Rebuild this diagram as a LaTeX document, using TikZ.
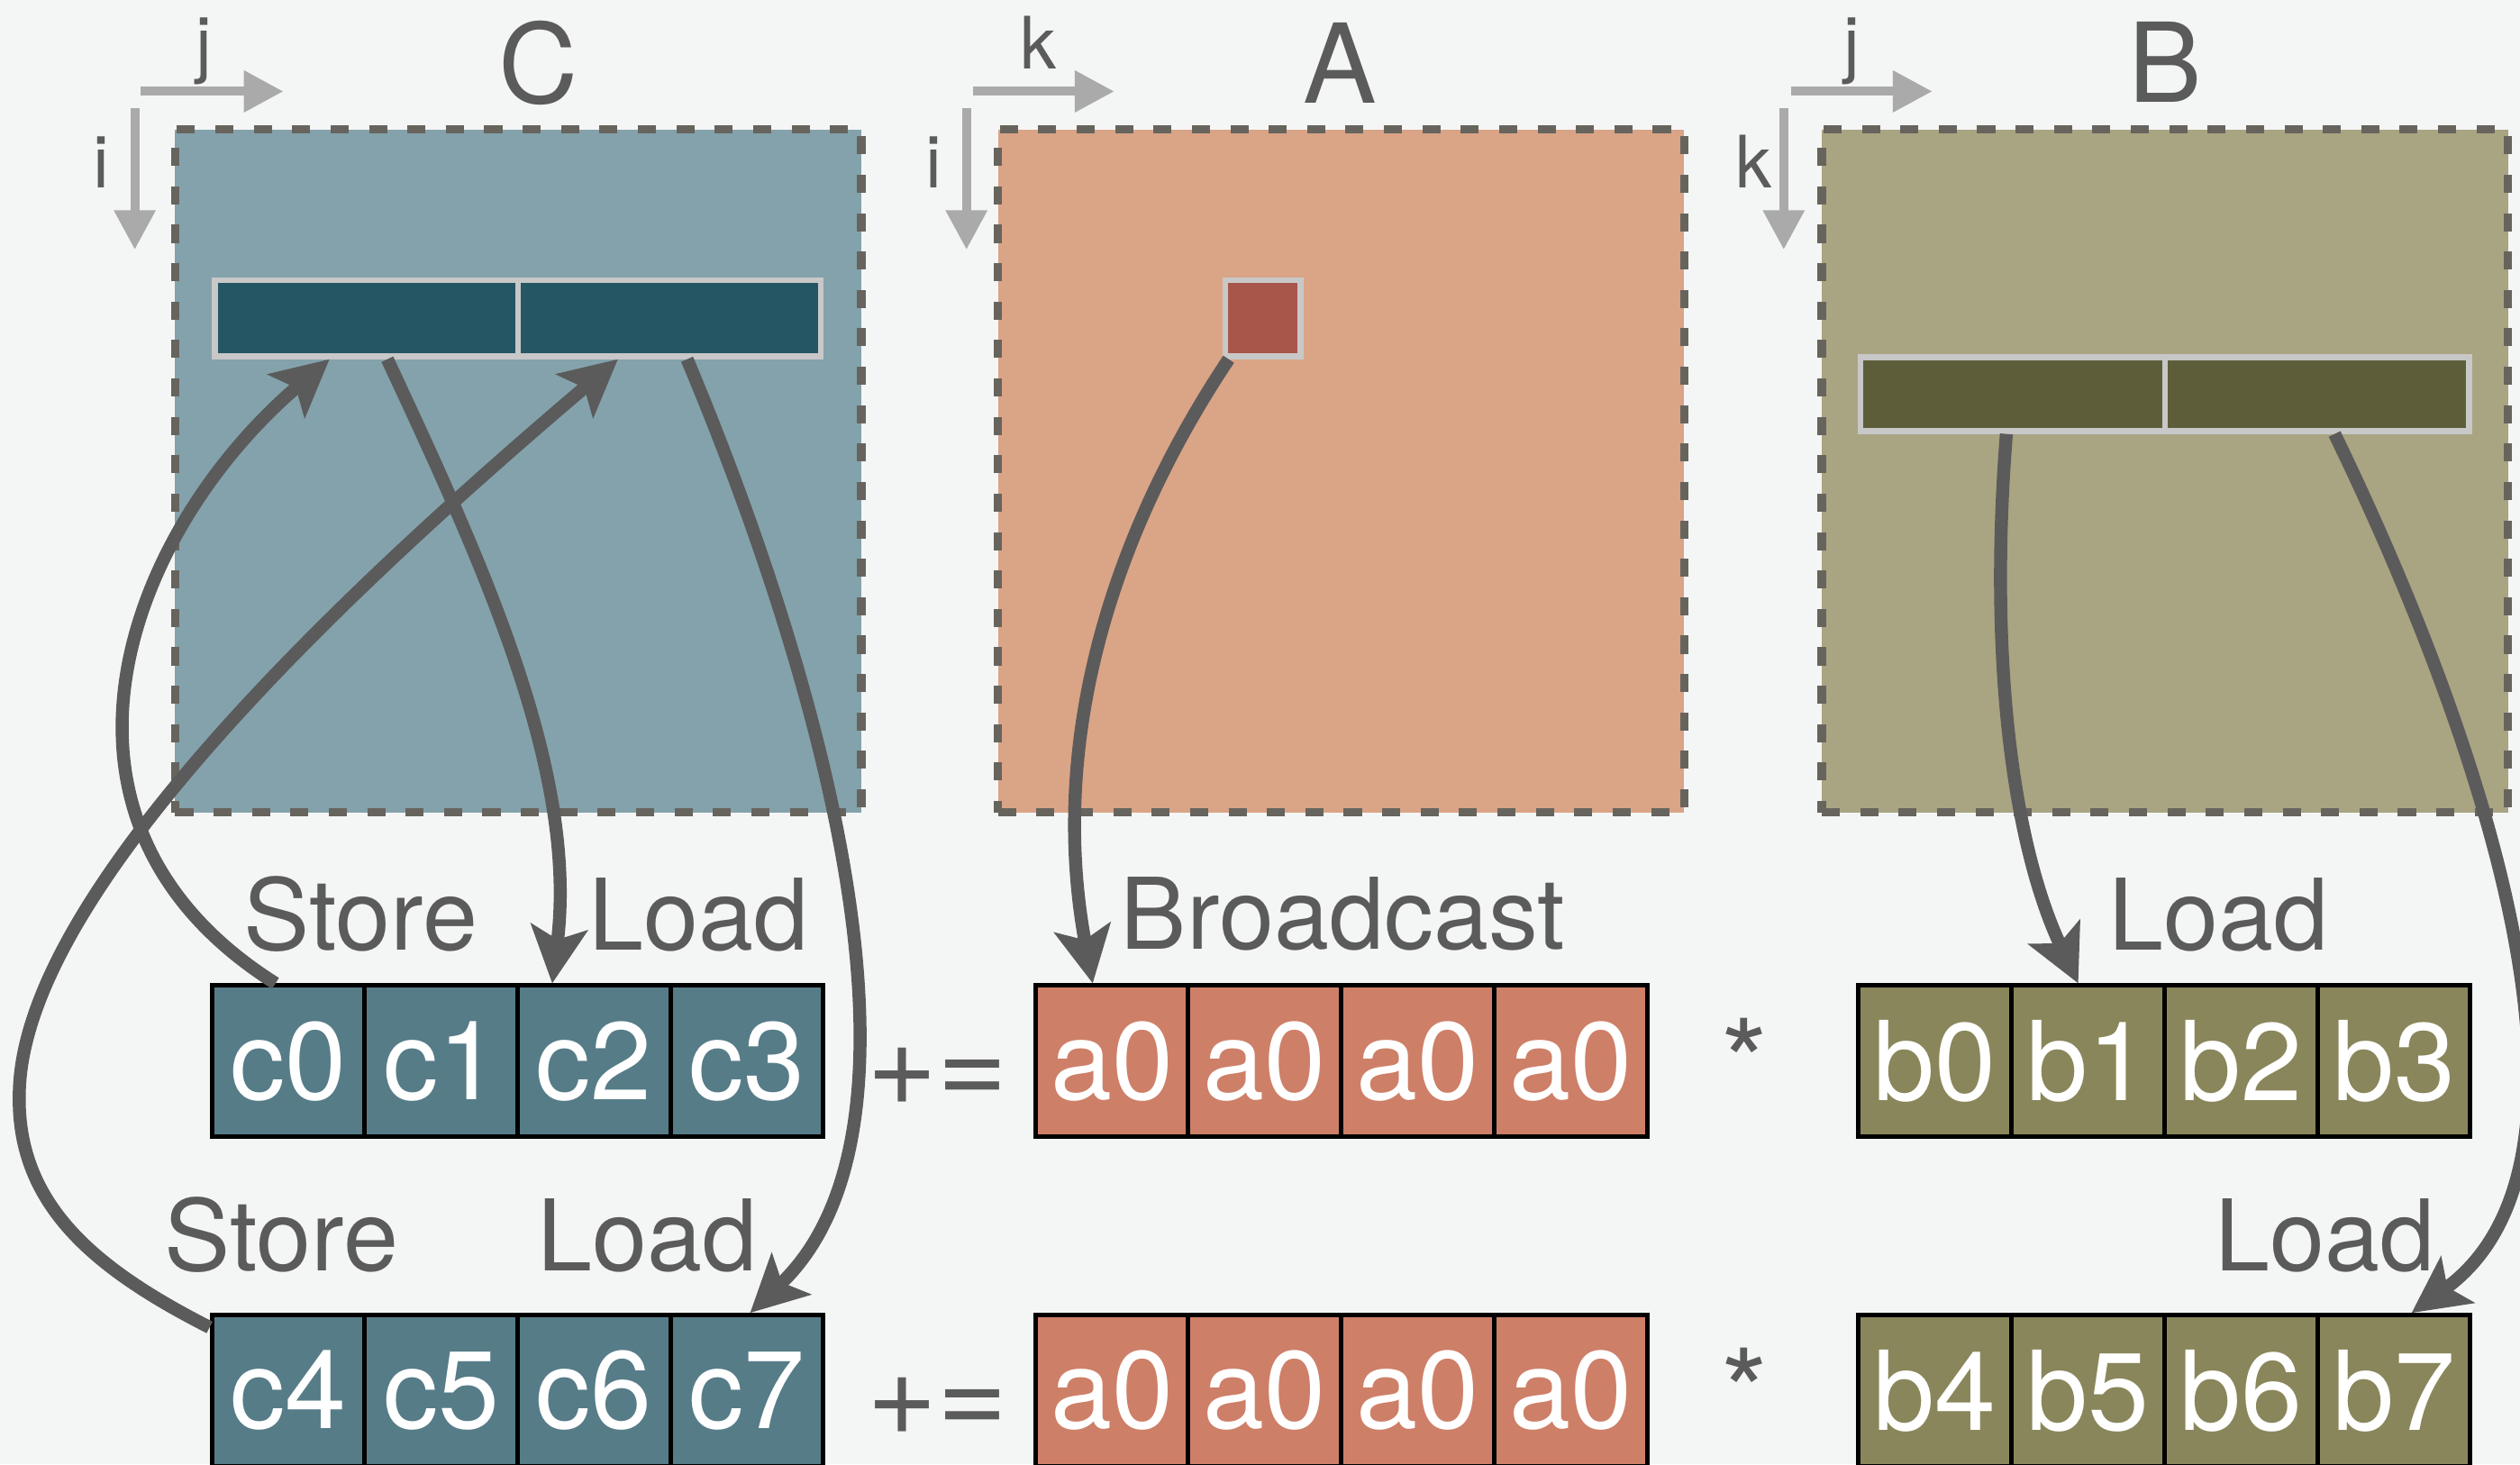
\documentclass[tikz,border=0pt]{standalone}
\usepackage{fontspec}
\setmainfont{TeX Gyre Heros}
\usetikzlibrary{arrows.meta}

\definecolor{bgcol}{HTML}{F4F6F5}
\definecolor{inkcol}{HTML}{5B5B5B}
\definecolor{axcol}{HTML}{AAAAAA}
\definecolor{dashcol}{HTML}{67645E}
\definecolor{edgecol}{HTML}{C8C8C8}
\definecolor{cmatcol}{HTML}{84A2AB}
\definecolor{crowcol}{HTML}{255664}
\definecolor{cregcol}{HTML}{567C88}
\definecolor{amatcol}{HTML}{DAA486}
\definecolor{aelcol}{HTML}{A9564A}
\definecolor{aregcol}{HTML}{CE7F68}
\definecolor{bmatcol}{HTML}{A9A482}
\definecolor{browcol}{HTML}{5D5E39}
\definecolor{bregcol}{HTML}{89865B}

\begin{document}
\begin{tikzpicture}[
  matbox/.style={draw=dashcol, line width=1.5pt, dash pattern=on 3.2pt off 3.6pt, minimum width=4.27cm, minimum height=4.25cm, inner sep=0},
  rowpart/.style={draw=edgecol, line width=1pt, inner sep=0},
  cell/.style={draw=black, line width=0.8pt, minimum width=0.952cm, minimum height=0.94cm, inner sep=0, text=white, font=\fontsize{19.5}{23}\selectfont},
  creg/.style={cell, fill=cregcol},
  areg/.style={cell, fill=aregcol},
  breg/.style={cell, fill=bregcol},
  word/.style={text=inkcol, anchor=base, inner sep=0, font=\fontsize{17.5}{21}\selectfont},
  op/.style={text=inkcol, anchor=base, inner sep=0, font=\fontsize{21.3}{25}\selectfont},
  mname/.style={text=inkcol, anchor=base, inner sep=0, font=\fontsize{19.5}{23}\selectfont},
  idx/.style={text=inkcol, anchor=base, inner sep=0, font=\fontsize{12.8}{15}\selectfont},
  dirarrow/.style={draw=axcol, line width=1.6pt, -{Triangle[length=7pt, width=7pt]}},
  flow/.style={draw=inkcol, line width=2.3pt, -{Stealth[length=10pt, width=10pt, inset=2.2pt]}}
]
\useasboundingbox (0,0) rectangle (15.68,9.11);
\fill[bgcol] (0,0) rectangle (15.68,9.11);

% Matrices
\node[matbox, fill=cmatcol] (C) at (3.225,6.18) {};
\node[matbox, fill=amatcol] (A) at (8.345,6.18) {};
\node[matbox, fill=bmatcol] (B) at (13.47,6.18) {};
\node[mname] (tC) at (3.35,8.47) {C};
\node[mname] (tA) at (8.34,8.47) {A};
\node[mname] (tB) at (13.47,8.475) {B};

% Index directions
\draw[dirarrow] ([xshift=-1.9mm, yshift=2.1mm]C.north west) -- ([xshift=7.0mm, yshift=2.1mm]C.north west);
\draw[dirarrow] ([xshift=-2.25mm, yshift=1.05mm]C.north west) -- ([xshift=-2.25mm, yshift=-7.75mm]C.north west);
\draw[dirarrow] ([xshift=-1.3mm, yshift=2.1mm]A.north west) -- ([xshift=7.5mm, yshift=2.1mm]A.north west);
\draw[dirarrow] ([xshift=-1.7mm, yshift=1.05mm]A.north west) -- ([xshift=-1.7mm, yshift=-7.75mm]A.north west);
\draw[dirarrow] ([xshift=-1.65mm, yshift=2.1mm]B.north west) -- ([xshift=7.15mm, yshift=2.1mm]B.north west);
\draw[dirarrow] ([xshift=-2.1mm, yshift=1.05mm]B.north west) -- ([xshift=-2.1mm, yshift=-7.75mm]B.north west);
\node[idx] (Cj) at (1.27,8.68) {j};
\node[idx] (Ci) at (0.63,7.94) {i};
\node[idx] (Ak) at (6.46,8.68) {k};
\node[idx] (Ai) at (5.81,7.94) {i};
\node[idx] (Bj) at (11.52,8.68) {j};
\node[idx] (Bk) at (10.91,7.94) {k};

% Rows held in memory
\node[rowpart, fill=crowcol, minimum width=1.885cm, minimum height=0.475cm] (cs1) at (2.28,7.13) {};
\node[rowpart, fill=crowcol, minimum width=1.885cm, minimum height=0.475cm] (cs2) at (4.165,7.13) {};
\node[rowpart, fill=aelcol, minimum width=0.47cm, minimum height=0.475cm] (as) at (7.8575,7.13) {};
\node[rowpart, fill=browcol, minimum width=1.8925cm, minimum height=0.46cm] (bs1) at (12.524,6.6575) {};
\node[rowpart, fill=browcol, minimum width=1.8925cm, minimum height=0.46cm] (bs2) at (14.416,6.6575) {};

% Registers, first row
\node[creg] (c0) at (1.794,2.5075) {c0};
\node[creg] (c1) at (2.745,2.5075) {c1};
\node[creg] (c2) at (3.696,2.5075) {c2};
\node[creg] (c3) at (4.647,2.5075) {c3};
\node[areg] (a0) at (6.919,2.5075) {a0};
\node[areg] (a1) at (7.870,2.5075) {a0};
\node[areg] (a2) at (8.821,2.5075) {a0};
\node[areg] (a3) at (9.772,2.5075) {a0};
\node[breg] (b0) at (12.039,2.5075) {b0};
\node[breg] (b1) at (12.991,2.5075) {b1};
\node[breg] (b2) at (13.943,2.5075) {b2};
\node[breg] (b3) at (14.895,2.5075) {b3};
\node[op] (pe1) at (5.8355,2.232) {+=};
\node[op] (mul1) at (10.855,2.226) {*};

% Registers, second row
\node[creg] (c4) at (1.794,0.457) {c4};
\node[creg] (c5) at (2.745,0.457) {c5};
\node[creg] (c6) at (3.696,0.457) {c6};
\node[creg] (c7) at (4.647,0.457) {c7};
\node[areg] (a4) at (6.919,0.457) {a0};
\node[areg] (a5) at (7.870,0.457) {a0};
\node[areg] (a6) at (8.821,0.457) {a0};
\node[areg] (a7) at (9.772,0.457) {a0};
\node[breg] (b4) at (12.039,0.457) {b4};
\node[breg] (b5) at (12.991,0.457) {b5};
\node[breg] (b6) at (13.943,0.457) {b6};
\node[breg] (b7) at (14.895,0.457) {b7};
\node[op] (pe2) at (5.8355,0.182) {+=};
\node[op] (mul2) at (10.855,0.176) {*};

% Labels
\node[word] (st1) at (2.245,3.20) {Store};
\node[word] (ld1) at (4.35,3.20) {Load};
\node[word] (st2) at (1.75,1.205) {Store};
\node[word] (ld2) at (4.03,1.205) {Load};
\node[word] (bc) at (8.355,3.205) {Broadcast};
\node[word] (ldb1) at (13.805,3.20) {Load};
\node[word] (ldb2) at (14.465,1.205) {Load};

% Arrows
\draw[flow] ([xshift=-0.8mm]c0.north) .. controls (0.10,4.01) and (0.80,5.81) .. ([xshift=-2.3mm]cs1.south);
\draw[flow] ([xshift=1.3mm]cs1.south) .. controls (3.00,5.61) and (3.60,4.31) .. ([xshift=-2.6mm]c2.north);
\draw[flow] ([yshift=-0.9mm]c4.north west) .. controls (0.60,1.21) and (0.10,1.61) .. (0.12,2.31)
  .. controls (0.14,3.51) and (2.00,5.31) .. ([xshift=-3.2mm]cs2.south);
\draw[flow] ([xshift=1.1mm]cs2.south) .. controls (5.10,4.91) and (5.90,2.11) .. ([xshift=0.2mm]c7.north);
\draw[flow] ([xshift=0.4mm]as.south west) .. controls (7.00,5.91) and (6.50,4.61) .. ([xshift=-1.2mm]a0.north);
\draw[flow] ([xshift=-0.4mm]bs1.south) .. controls (12.38,5.11) and (12.50,3.91) .. ([xshift=-0.6mm]b1.north);
\draw[flow] ([xshift=1.1mm]bs2.south) .. controls (15.40,4.61) and (16.35,1.91) .. ([xshift=1.1mm]b7.north);
\end{tikzpicture}
\end{document}
